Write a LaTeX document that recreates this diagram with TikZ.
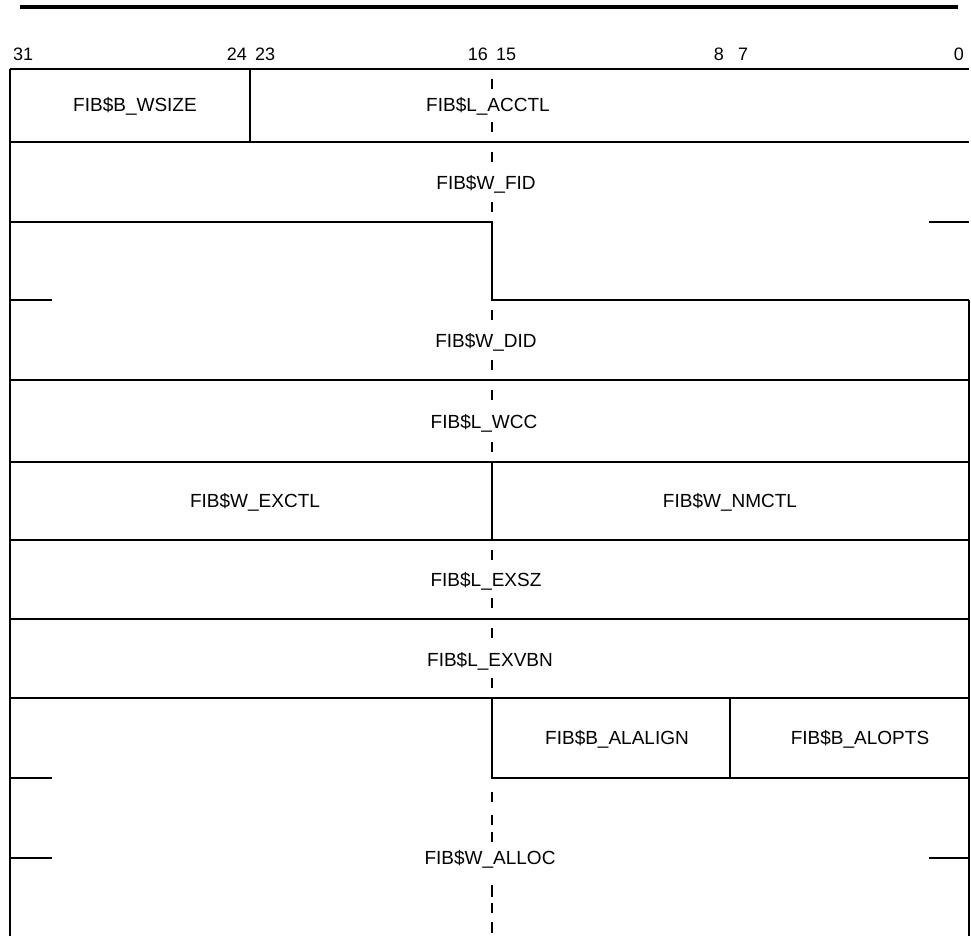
\documentclass[tikz,border=0pt]{standalone}
\usepackage{fontspec}
\setmainfont{Liberation Sans}
\begin{document}
\begin{tikzpicture}[x=1pt,y=-1pt,
  rule/.style={line width=1.8pt},
  thickrule/.style={line width=4pt},
  cdash/.style={line width=1.8pt},
  field/.style={font=\fontsize{19}{21}\selectfont, inner sep=0pt, anchor=base},
  bitnum/.style={font=\fontsize{18}{20}\selectfont, inner sep=0pt}]
\useasboundingbox (0,0) rectangle (971,936);

% heading rule
\draw[thickrule] (20,7) -- (958,7);

% bit numbers
\node[bitnum, anchor=base west] (b31) at (13,61) {31};
\node[bitnum, anchor=base east] (b24) at (247,61) {24};
\node[bitnum, anchor=base west] (b23) at (255,61) {23};
\node[bitnum, anchor=base east] (b16) at (488,61) {16};
\node[bitnum, anchor=base west] (b15) at (496,61) {15};
\node[bitnum, anchor=base east] (b8) at (724,61) {8};
\node[bitnum, anchor=base west] (b7) at (738,61) {7};
\node[bitnum, anchor=base east] (b0) at (964,61) {0};

% borders
\draw[rule] (10,69) -- (10,936);
\draw[rule] (969,300) -- (969,936);

% full-width horizontal lines
\foreach \yy in {69,142,380,462,540,619,698}
  \draw[rule] (10,\yy) -- (969,\yy);

% partial lines and stubs
\draw[rule] (10,222) -- (492,222) -- (492,300) -- (969,300);
\draw[rule] (929,222) -- (969,222);
\draw[rule] (10,300) -- (52,300);
\draw[rule] (492,698) -- (492,778) -- (969,778);
\draw[rule] (730,698) -- (730,778);
\draw[rule] (10,778) -- (52,778);
\draw[rule] (10,858) -- (52,858);
\draw[rule] (929,858) -- (969,858);
\draw[rule] (250,69) -- (250,142);
\draw[rule] (492,462) -- (492,540);

% dashed centre line pieces
\foreach \ya/\yb in {79/89,122/132,152/162,202/212,310/320,360/370,390/400,442/452,550/560,598/608,628/638,678/688,792/802,815/825,832/842,885/897,903/913,922/933}
  \draw[cdash] (492,\ya) -- (492,\yb);

% field names
\node[field] (wsize) at (135,111.5) {FIB\$B\_WSIZE};
\node[field] (acctl) at (488,111.5) {FIB\$L\_ACCTL};
\node[field] (fid) at (486,189.5) {FIB\$W\_FID};
\node[field] (did) at (486,347.5) {FIB\$W\_DID};
\node[field] (wcc) at (484,428.5) {FIB\$L\_WCC};
\node[field] (exctl) at (255,507.5) {FIB\$W\_EXCTL};
\node[field] (nmctl) at (730,507.5) {FIB\$W\_NMCTL};
\node[field] (exsz) at (486,586.5) {FIB\$L\_EXSZ};
\node[field] (exvbn) at (490,666.5) {FIB\$L\_EXVBN};
\node[field] (alalign) at (617,744.5) {FIB\$B\_ALALIGN};
\node[field] (alopts) at (860,744.5) {FIB\$B\_ALOPTS};
\node[field] (alloc) at (490,864.5) {FIB\$W\_ALLOC};
\end{tikzpicture}
\end{document}
